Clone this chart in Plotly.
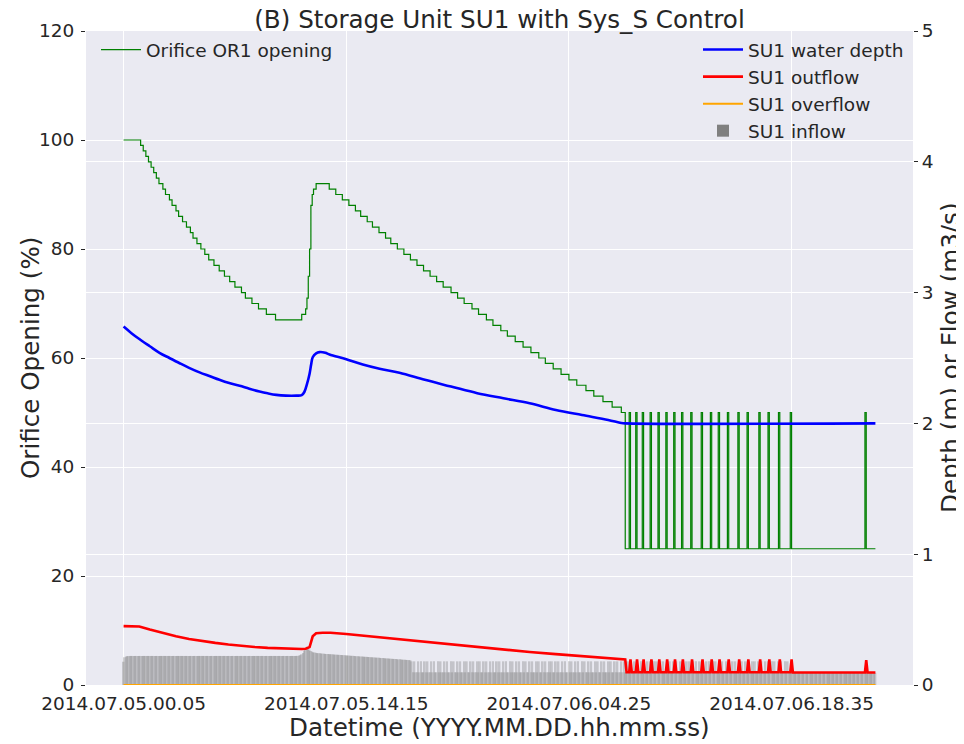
import pandas as pd
import plotly.graph_objects as go

START = "2014-07-05 00:05"
TICK_LABELS = ["2014.07.05.00.05", "2014.07.05.14.15", "2014.07.06.04.25", "2014.07.06.18.35"]

# Orifice OR1 opening (%), step values: value holds from time (min after START) until next time
ORIFICE_T = [0, 65, 75, 85, 95, 105, 115, 125, 135, 150, 160, 175, 185, 200, 210,
             225, 240, 255, 265, 280, 295, 310, 325, 345, 365, 385, 405, 425, 450,
             465, 490, 515, 545, 580,
             680, 695, 700, 705, 710, 715, 720, 725, 735,
             785, 810, 835, 860, 885, 905, 930, 950, 975, 1000, 1020, 1045, 1070, 1095,
             1120, 1145, 1170, 1195, 1220, 1250, 1275, 1300, 1330, 1355, 1385, 1410, 1440,
             1465, 1495, 1525, 1555, 1585, 1610, 1640, 1670, 1700, 1730, 1765, 1795, 1830,
             1865, 1900, 1915,
             1930, 1935, 1955, 1960, 1980, 1985, 2010, 2015, 2040, 2045, 2070, 2075,
             2100, 2105, 2130, 2135, 2165, 2170, 2205, 2210, 2240, 2245, 2270, 2275,
             2305, 2310, 2345, 2350, 2380, 2385, 2425, 2430, 2460, 2465, 2500, 2505,
             2545, 2550, 2830, 2835, 2870]
ORIFICE_V = [100, 99, 98, 97, 96, 95, 94, 93, 92, 91, 90, 89, 88, 87, 86,
             85, 84, 83, 82, 81, 80, 79, 78, 77, 76, 75, 74, 73, 72,
             71, 70, 69, 68, 67,
             68, 69, 71, 75, 80, 88, 90, 91, 92,
             91, 90, 89, 88, 87, 86, 85, 84, 83, 82, 81, 80, 79, 78,
             77, 76, 75, 74, 73, 72, 71, 70, 69, 68, 67, 66, 65,
             64, 63, 62, 61, 60, 59, 58, 57, 56, 55, 54, 53, 52,
             51, 50, 25,
             50, 25, 50, 25, 50, 25, 50, 25, 50, 25, 50, 25,
             50, 25, 50, 25, 50, 25, 50, 25, 50, 25, 50, 25,
             50, 25, 50, 25, 50, 25, 50, 25, 50, 25, 50, 25,
             50, 25, 50, 25, 25]

# SU1 water depth (m)
DEPTH_T = [0, 30, 60, 100, 137, 175, 214, 250, 290, 330, 366, 400, 443, 480, 519, 550,
           583, 620, 660, 680, 690, 700, 710, 716, 722, 735, 748, 770, 786, 850, 913,
           977, 1053, 1150, 1250, 1350, 1450, 1550, 1650, 1750, 1850, 1900, 1915, 2870]
DEPTH_V = [2.74, 2.69, 2.645, 2.59, 2.54, 2.50, 2.46, 2.425, 2.39, 2.36, 2.333, 2.31,
           2.287, 2.265, 2.244, 2.23, 2.218, 2.212, 2.212, 2.216, 2.24, 2.30, 2.38, 2.45,
           2.506, 2.535, 2.545, 2.54, 2.527, 2.49, 2.45, 2.418, 2.387, 2.333, 2.282,
           2.231, 2.192, 2.154, 2.103, 2.064, 2.026, 2.003, 2.0, 2.0]

# SU1 outflow (m3/s)
OUTFLOW_T = [0, 60, 100, 150, 200, 250, 300, 350, 400, 450, 500, 550, 600, 680, 695,
             710, 722, 735, 760, 790, 850, 950, 1050, 1150, 1250, 1350, 1450, 1550,
             1650, 1750, 1850, 1915, 1920,
             1930, 1935, 1940, 1955, 1960, 1965, 1980, 1985, 1990, 2010, 2015, 2020,
             2040, 2045, 2050, 2070, 2075, 2080, 2100, 2105, 2110, 2130, 2135, 2140,
             2165, 2170, 2175, 2205, 2210, 2215, 2240, 2245, 2250, 2270, 2275, 2280,
             2305, 2310, 2315, 2345, 2350, 2355, 2380, 2385, 2390, 2425, 2430, 2435,
             2460, 2465, 2470, 2500, 2505, 2510, 2545, 2550, 2555, 2830, 2835, 2840, 2870]
OUTFLOW_V = [0.45, 0.447, 0.424, 0.396, 0.372, 0.352, 0.336, 0.322, 0.31, 0.299, 0.291,
             0.284, 0.279, 0.275, 0.277, 0.29, 0.372, 0.395, 0.40, 0.399, 0.39, 0.37,
             0.348, 0.327, 0.307, 0.288, 0.27, 0.252, 0.236, 0.22, 0.204, 0.195, 0.097,
             0.097, 0.196, 0.097, 0.097, 0.196, 0.097, 0.097, 0.196, 0.097, 0.097, 0.196, 0.097,
             0.097, 0.196, 0.097, 0.097, 0.196, 0.097, 0.097, 0.196, 0.097, 0.097, 0.196, 0.097,
             0.097, 0.196, 0.097, 0.097, 0.196, 0.097, 0.097, 0.196, 0.097, 0.097, 0.196, 0.097,
             0.097, 0.196, 0.097, 0.097, 0.196, 0.097, 0.097, 0.196, 0.097, 0.097, 0.196, 0.097,
             0.097, 0.196, 0.097, 0.097, 0.196, 0.097, 0.097, 0.196, 0.096, 0.096, 0.19, 0.096, 0.096]

# SU1 overflow (m3/s)
OVERFLOW_T = [0, 2870]
OVERFLOW_V = [0.0, 0.0]

# SU1 inflow (m3/s), one value every 5 minutes from START
H, L, B = 0.181, 0.097, 0.093
INFLOW = [
    0.178, 0.212, 0.218, 0.22, 0.221, 0.222, 0.222, 0.222, 0.222, 0.222, 0.222, 0.222,
    0.222, 0.222, 0.222, 0.222, 0.222, 0.222, 0.222, 0.222, 0.222, 0.222, 0.222, 0.222,
    0.222, 0.222, 0.222, 0.222, 0.222, 0.222, 0.222, 0.222, 0.222, 0.222, 0.222, 0.222,
    0.222, 0.222, 0.222, 0.222, 0.222, 0.222, 0.222, 0.222, 0.222, 0.222, 0.222, 0.222,
    0.222, 0.222, 0.222, 0.222, 0.222, 0.222, 0.222, 0.222, 0.222, 0.222, 0.222, 0.222,
    0.222, 0.222, 0.222, 0.222, 0.222, 0.222, 0.222, 0.222, 0.222, 0.222, 0.222, 0.222,
    0.222, 0.222, 0.222, 0.222, 0.222, 0.222, 0.222, 0.222, 0.222, 0.222, 0.222, 0.222,
    0.222, 0.222, 0.222, 0.222, 0.222, 0.222, 0.222, 0.222, 0.222, 0.222, 0.222, 0.222,
    0.222, 0.222, 0.222, 0.222, 0.222, 0.222, 0.222, 0.222, 0.222, 0.222, 0.222, 0.222,
    0.222, 0.222, 0.222, 0.222, 0.222, 0.222, 0.222, 0.222, 0.222, 0.222, 0.222, 0.222,
    0.222, 0.222, 0.222, 0.222, 0.222, 0.222, 0.222, 0.222, 0.222, 0.222, 0.222, 0.222,
    0.222, 0.223, 0.225, 0.228, 0.235, 0.245, 0.262, 0.28, 0.292, 0.285, 0.27, 0.26,
    0.255, 0.25, 0.248, 0.246, 0.244, 0.243, 0.242, 0.241, 0.24, 0.239, 0.238, 0.237,
    0.237, 0.236, 0.235, 0.235, 0.234, 0.233, 0.232, 0.232, 0.231, 0.23, 0.229, 0.229,
    0.228, 0.227, 0.226, 0.226, 0.225, 0.224, 0.223, 0.223, 0.222, 0.221, 0.22, 0.22,
    0.219, 0.218, 0.218, 0.217, 0.216, 0.215, 0.215, 0.214, 0.213, 0.212, 0.212, 0.211,
    0.21, 0.209, 0.209, 0.208, 0.207, 0.206, 0.206, 0.205, 0.204, 0.203, 0.203, 0.202,
    0.201, 0.2, 0.2, 0.199, 0.198, 0.197, 0.196, 0.196, 0.195, 0.194, 0.193, 0.193,
    0.192, 0.191, 0.19, 0.19, H, L, H, L, L, H, L, H,
    L, L, H, L, H, L, L, H, L, H, L, L,
    H, L, H, L, L, H, L, H, L, L, H, L,
    H, L, L, H, L, H, L, L, H, L, H, L,
    L, H, L, H, L, L, H, L, H, L, L, H,
    L, H, L, L, H, L, H, L, L, H, L, H,
    L, L, H, L, H, L, L, H, L, H, L, L,
    H, L, H, L, L, H, L, H, L, L, H, L,
    H, L, L, H, L, H, L, L, H, L, H, L,
    L, H, L, H, L, L, H, L, H, L, L, H,
    L, H, L, L, H, L, H, L, L, H, L, H,
    L, L, H, L, H, L, L, H, L, H, L, L,
    H, L, H, L, L, H, L, H, L, L, H, L,
    H, L, L, H, L, H, L, L, H, L, H, L,
    L, H, L, H, L, L, H, L, H, L, L, H,
    L, H, L, L, H, L, H, L, L, H, L, H,
    L, L, H, L, H, L, L, H, L, H, L, L,
    H, L, H, L, L, H, L, H, L, L, H, L,
    H, L, L, H, L, H, L, L, H, L, H, L,
    L, H, L, H, L, L, H, L, H, L, L, H,
    L, H, L, L, H, L, H, L, L, H, L, H,
    L, L, H, L, H, L, L, H, L, H, L, L,
    H, L, H, L, L, H, L, H, L, L, H, L,
    H, L, L, H, L, H, L, L, H, L, H, L,
    L, H, L, H, L, L, B, B, B, B, B, B,
    B, B, B, B, B, B, B, B, B, B, B, B,
    B, B, B, B, B, B, B, B, B, B, B, B,
    B, B, B, B, B, B, B, B, B, B, B, B,
    B, B, B, B, B, B, B, B, B, B, B, B,
    B, B, B, B, B, B, B, B, B, B, B,
]

TEXT = "#262626"
FS_TICK, FS_LEG, FS_TITLE = 18.5, 18.5, 24.6
t0 = pd.Timestamp(START)


def to_dt(mins):
    return [t0 + pd.Timedelta(minutes=m) for m in mins]


inflow_x = pd.date_range(t0, periods=len(INFLOW), freq="5min")
tickvals = [pd.to_datetime(s, format="%Y.%m.%d.%H.%M") for s in TICK_LABELS]
span = inflow_x[-1] - inflow_x[0]
xrange = [inflow_x[0] - span * 0.05, inflow_x[-1] + span * 0.05]

# the page adds an 8px body margin, so the figure is 8px smaller on each axis
FIG_W, FIG_H = 956, 736
ML, MR, MT, MB = 78, 51, 23, 59
PW, PH = FIG_W - ML - MR, FIG_H - MT - MB

fig = go.Figure()
fig.add_trace(go.Scatter(x=to_dt(ORIFICE_T), y=ORIFICE_V, mode="lines", line_shape="hv",
                         line=dict(color="#008000", width=1.2), name="Orifice OR1 opening",
                         yaxis="y", legend="legend", showlegend=True))
fig.add_trace(go.Scatter(x=to_dt(DEPTH_T), y=DEPTH_V, mode="lines", line_shape="spline",
                         line=dict(color="#0000FF", width=2.6), name="SU1 water depth",
                         yaxis="y2", legend="legend2", showlegend=True))
fig.add_trace(go.Scatter(x=to_dt(OUTFLOW_T), y=OUTFLOW_V, mode="lines",
                         line=dict(color="#FF0000", width=2.6), name="SU1 outflow",
                         yaxis="y2", legend="legend2", showlegend=True))
fig.add_trace(go.Scatter(x=to_dt(OVERFLOW_T), y=OVERFLOW_V, mode="lines",
                         line=dict(color="#FFA500", width=2), name="SU1 overflow",
                         yaxis="y2", legend="legend2", showlegend=True))
fig.add_trace(go.Bar(x=inflow_x, y=INFLOW, width=7 * 60 * 1000,
                     marker=dict(color="gray", opacity=0.36, line=dict(width=0)),
                     name="SU1 inflow", yaxis="y2", legend="legend2", showlegend=True))

fig.update_layout(
    width=FIG_W, height=FIG_H,
    margin=dict(l=ML, r=MR, t=MT, b=MB, autoexpand=False),
    plot_bgcolor="#EAEAF2", paper_bgcolor="white",
    font=dict(family="DejaVu Sans", size=FS_TICK, color=TEXT),
    barmode="overlay",
    showlegend=True,
    title=dict(text="(B) Storage Unit SU1 with Sys_S Control", x=0.5, xref="paper",
               xanchor="center", y=1 - 11.5 / FIG_H, yref="container", yanchor="middle",
               font=dict(size=FS_TITLE, color=TEXT)),
    xaxis=dict(type="date", range=xrange, tickvals=tickvals, ticktext=TICK_LABELS,
               showgrid=True, gridcolor="white", gridwidth=1.2, zeroline=False,
               showline=False, ticks="", ticklabelstandoff=5,
               tickfont=dict(size=FS_TICK, color=TEXT)),
    yaxis=dict(range=[0, 120], dtick=20, showgrid=True, gridcolor="white", gridwidth=1.2,
               zeroline=False, showline=False, ticks="outside", ticklen=4,
               ticklabelstandoff=3, tickcolor=TEXT, tickfont=dict(size=FS_TICK, color=TEXT)),
    yaxis2=dict(range=[0, 5], dtick=1, overlaying="y", side="right", showgrid=True,
                gridcolor="white", gridwidth=1.2, zeroline=False, showline=False,
                ticks="outside", ticklen=4, tickcolor=TEXT,
                tickfont=dict(size=FS_TICK, color=TEXT)),
    legend=dict(x=10 / PW, y=1, xanchor="left", yanchor="top", bgcolor="rgba(0,0,0,0)",
                itemwidth=40, font=dict(size=FS_LEG, color=TEXT)),
    legend2=dict(x=1 - 4 / PW, y=1, xanchor="right", yanchor="top",
                 bgcolor="rgba(0,0,0,0)", itemwidth=40, font=dict(size=FS_LEG, color=TEXT)),
    annotations=[
        dict(text="Orifice Opening (%)", xref="paper", yref="paper", x=(22 - ML) / PW,
             y=0.5, xanchor="center", yanchor="middle", textangle=-90, showarrow=False,
             font=dict(size=FS_TITLE, color=TEXT)),
        dict(text="Depth (m) or Flow (m3/s)", xref="paper", yref="paper",
             x=(942 - ML) / PW, y=0.5, xanchor="center", yanchor="middle",
             textangle=-90, showarrow=False, font=dict(size=FS_TITLE, color=TEXT)),
        dict(text="Datetime (YYYY.MM.DD.hh.mm.ss)", xref="paper", yref="paper", x=0.5,
             y=-(719 - (MT + PH)) / PH, xanchor="center", yanchor="middle",
             showarrow=False, font=dict(size=FS_TITLE, color=TEXT)),
    ],
)

fig.write_html("out.html")
